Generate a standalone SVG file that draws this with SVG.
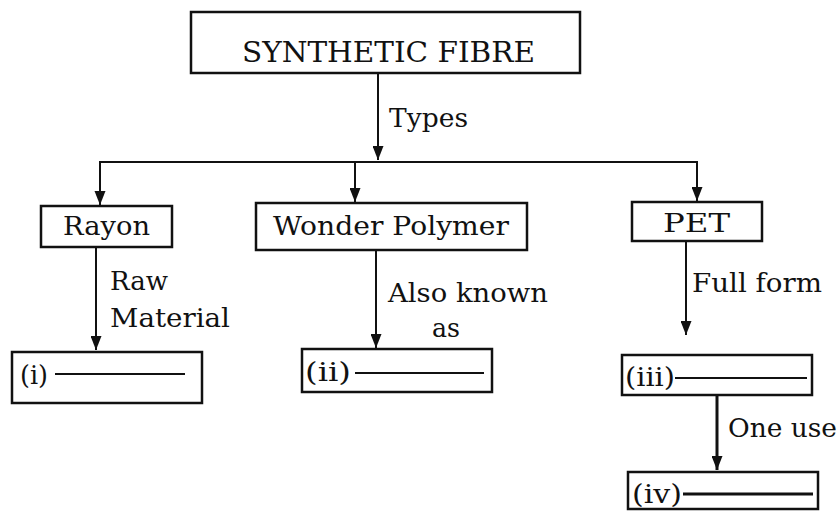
<svg xmlns="http://www.w3.org/2000/svg" width="840" height="512" viewBox="0 0 840 512">
<defs>
<marker id="arr" markerUnits="userSpaceOnUse" markerWidth="14" markerHeight="11" refX="14" refY="5.5" orient="auto">
<path d="M0,0 L14,5.5 L0,11 z" fill="#111"/>
</marker>
<style>
.box{fill:#fff;stroke:#111;stroke-width:2.5}
.t{font-family:"DejaVu Serif","Liberation Serif",serif;font-size:26px;fill:#111}
.h{font-size:28px}
.c{fill:none;stroke:#111;stroke-width:2}
.blank{stroke:#111;stroke-width:2}
</style>
</defs>
<rect width="840" height="512" fill="#fff"/>
<g id="connectors">
<path class="c" d="M378,74 V160" marker-end="url(#arr)"/>
<path class="c" d="M100,205 V162 H697 V201" marker-end="url(#arr)"/>
<path class="c" d="M355,162 V202" marker-end="url(#arr)"/>
<path class="c" d="M96,247 V350" marker-end="url(#arr)"/>
<path class="c" d="M376,250 V348" marker-end="url(#arr)"/>
<path class="c" d="M686,241 V335" marker-end="url(#arr)"/>
<path class="c" style="stroke-width:3" d="M717,395 V470" marker-end="url(#arr)"/>
<path d="M100,205 l-5.5,-14 h11 z" fill="#111"/>
<text class="t" x="389" y="127" textLength="79" lengthAdjust="spacingAndGlyphs">Types</text>
<text class="t" x="110" y="290" textLength="58" lengthAdjust="spacingAndGlyphs">Raw</text>
<text class="t" x="110" y="327" textLength="120" lengthAdjust="spacingAndGlyphs">Material</text>
<text class="t" x="388" y="302" textLength="160" lengthAdjust="spacingAndGlyphs">Also known</text>
<text class="t" x="432" y="337" textLength="28" lengthAdjust="spacingAndGlyphs">as</text>
<text class="t" x="692" y="292" textLength="130" lengthAdjust="spacingAndGlyphs">Full form</text>
<text class="t" x="728" y="437" textLength="109" lengthAdjust="spacingAndGlyphs">One use</text>
</g>
<g id="synthetic-fibre">
<rect class="box" x="191" y="12" width="389" height="61"/>
<text class="t h" x="242" y="62" textLength="293" lengthAdjust="spacingAndGlyphs">SYNTHETIC FIBRE</text>
</g>
<g id="rayon">
<rect class="box" x="41" y="206" width="131" height="41"/>
<text class="t" x="63" y="235" textLength="87" lengthAdjust="spacingAndGlyphs">Rayon</text>
</g>
<g id="wonder-polymer">
<rect class="box" x="256" y="203" width="271" height="47"/>
<text class="t" x="273" y="235" textLength="236" lengthAdjust="spacingAndGlyphs">Wonder Polymer</text>
</g>
<g id="pet">
<rect class="box" x="632" y="202" width="130" height="39"/>
<text class="t" x="663" y="232" textLength="67" lengthAdjust="spacingAndGlyphs">PET</text>
</g>
<g id="blank-i">
<rect class="box" x="12" y="352" width="190" height="51"/>
<text class="t" x="20" y="384" textLength="28" lengthAdjust="spacingAndGlyphs">(i)</text>
<line class="blank" x1="55" y1="374" x2="185" y2="374"/>
</g>
<g id="blank-ii">
<rect class="box" x="302" y="349" width="190" height="43"/>
<text class="t" x="305" y="381" textLength="46" lengthAdjust="spacingAndGlyphs">(ii)</text>
<line class="blank" x1="355" y1="373" x2="484" y2="373"/>
</g>
<g id="blank-iii">
<rect class="box" x="622" y="355" width="190" height="40"/>
<text class="t" x="625" y="386" textLength="50" lengthAdjust="spacingAndGlyphs">(iii)</text>
<line class="blank" x1="675" y1="378" x2="807" y2="378"/>
</g>
<g id="blank-iv">
<rect class="box" x="628" y="472" width="190" height="37"/>
<text class="t" x="632" y="503" textLength="50" lengthAdjust="spacingAndGlyphs">(iv)</text>
<line class="blank" style="stroke-width:3" x1="683" y1="494" x2="813" y2="494"/>
</g>
</svg>
